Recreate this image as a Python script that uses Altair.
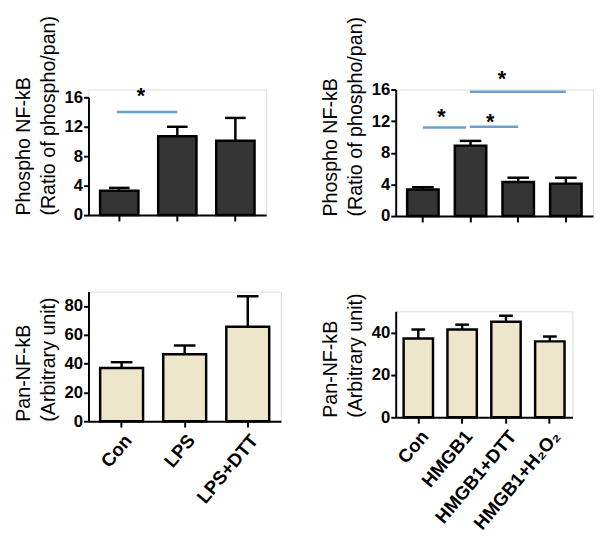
import altair as alt
import pandas as pd

# ---------------- data ----------------
cats_lps = ["Con", "LPS", "LPS+DTT"]
phos_lps = [3.3, 10.7, 10.1]
phos_lps_err = [0.4, 1.3, 3.1]
pan_lps = [37.0, 46.5, 65.6]
pan_lps_err = [4.0, 6.1, 21.2]

cats_hmgb = ["Con", "HMGB1", "HMGB1+DTT", "HMGB1+H₂O₂"]
phos_hmgb = [3.35, 8.9, 4.3, 4.1]
phos_hmgb_err = [0.3, 0.6, 0.55, 0.75]
pan_hmgb = [37.2, 41.4, 45.1, 35.8]
pan_hmgb_err = [4.2, 2.3, 2.8, 2.3]

sig_lps_start = ["Con"]
sig_lps_end = ["LPS"]
sig_lps_y = [14.0]
star_lps_y = [16.3]

sig_hmgb_start = ["Con", "HMGB1", "HMGB1"]
sig_hmgb_end = ["HMGB1", "HMGB1+DTT", "HMGB1+H₂O₂"]
sig_hmgb_y = [11.2, 11.3, 15.7]
star_hmgb_y = [12.7, 12.1, 17.5]

phos_ticks = [0, 4, 8, 12, 16]
pan_lps_ticks = [0, 20, 40, 60, 80]
pan_hmgb_ticks = [0, 20, 40]

phos_title = ["Phospho NF-kB", "(Ratio of phospho/pan)"]
pan_title = ["Pan-NF-kB", "(Arbitrary unit)"]

# ---------------- style ----------------
FONT = "Liberation Sans"
DARK = "#353535"
BEIGE = "#EDE6CB"
BLUE = "#6A9FD4"


def y_axis(values, title):
    return alt.Axis(values=values, title=title, titleAnchor="start",
                    titleFont=FONT, titleFontSize=20, titleFontWeight="normal",
                    titleLineHeight=25, titleColor="black", titlePadding=6,
                    labelFont=FONT, labelFontSize=17, labelFontWeight="bold",
                    labelColor="black", labelPadding=1, tickSize=5, tickWidth=2,
                    tickColor="black", domainColor="black", domainWidth=2,
                    labelOverlap=False, grid=False)


def x_axis(show_labels):
    if show_labels:
        return alt.Axis(title=None, labelAngle=-50, labelAlign="right",
                        labelBaseline="top", labelFont=FONT, labelFontSize=19,
                        labelFontWeight="bold", labelColor="black",
                        labelPadding=4, tickSize=6, tickWidth=2,
                        tickColor="black", domainColor="black", domainWidth=2,
                        labelOverlap=False, labelLimit=300)
    return alt.Axis(title=None, labels=False, tickSize=6, tickWidth=2,
                    tickColor="black", domainColor="black", domainWidth=2)


def panel(cats, vals, errs, fill, ydom, yticks, title, show_labels,
          p_in, p_out, cap, yrange=None):
    df = pd.DataFrame({"group": cats, "value": vals,
                       "upper": [v + e for v, e in zip(vals, errs)]})
    xscale = alt.Scale(domain=cats, paddingInner=p_in, paddingOuter=p_out)
    xax = x_axis(show_labels)
    if yrange is None:
        yscale = alt.Scale(domain=ydom, nice=False, zero=True)
    else:
        yscale = alt.Scale(domain=ydom, nice=False, zero=True, range=yrange)
    yax = y_axis(yticks, title)

    def X(f="group:N"):
        return alt.X(f, sort=cats, scale=xscale, axis=xax)

    def Y(f):
        return alt.Y(f, scale=yscale, axis=yax)

    base = alt.Chart(df)
    bars = base.mark_bar(fill=fill, stroke="black", strokeWidth=2.5).encode(
        x=X(), y=Y("value:Q"))
    err = base.mark_rule(color="black", strokeWidth=2.5).encode(
        x=X(), y=Y("value:Q"), y2="upper:Q")
    caps = base.mark_tick(color="black", size=cap, thickness=2.5,
                          opacity=1).encode(x=X(), y=Y("upper:Q"))
    return [err, bars, caps], X, Y


def sig_line(start, end, yv, bp1, bp2, X, Y):
    d = pd.DataFrame({"group": [start], "b": [end], "y": [yv]})
    x = X()
    x.bandPosition = bp1
    return alt.Chart(d).mark_rule(color=BLUE, strokeWidth=2.5).encode(
        x=x, x2=alt.X2("b:N", bandPosition=bp2), y=Y("y:Q"))


def star(start, yv, dx, X, Y):
    d = pd.DataFrame({"group": [start], "y": [yv], "t": ["*"]})
    return alt.Chart(d).mark_text(font=FONT, fontSize=22, fontWeight="bold",
                                  color="black", baseline="middle",
                                  dx=dx, dy=1.5).encode(
        x=X(), y=Y("y:Q"), text="t:N")


# top-left (8 px of empty room above the plot so it sits lower than top-right)
tl_layers, tlX, tlY = panel(cats_lps, phos_lps, phos_lps_err, DARK, [0, 16],
                            phos_ticks, phos_title, False, 0.34, 0.2, 21,
                            yrange=[128, 8])
tl_layers.append(sig_line(sig_lps_start[0], sig_lps_end[0], sig_lps_y[0],
                          0.44, 0.5, tlX, tlY))
tl_layers.append(star(sig_lps_start[0], star_lps_y[0], 22, tlX, tlY))
tl = alt.layer(*tl_layers).properties(width=181, height=128)

# top-right
tr_layers, trX, trY = panel(cats_hmgb, phos_hmgb, phos_hmgb_err, DARK, [0, 16],
                            phos_ticks, phos_title, False, 0.34, 0.24, 22)
bands = [(0.5, 0.36), (0.48, 0.5), (0.48, 0.5)]
dxs = [19, 20, 32]
for i in range(3):
    tr_layers.append(sig_line(sig_hmgb_start[i], sig_hmgb_end[i], sig_hmgb_y[i],
                              bands[i][0], bands[i][1], trX, trY))
    tr_layers.append(star(sig_hmgb_start[i], star_hmgb_y[i], dxs[i], trX, trY))
tr = alt.layer(*tr_layers).properties(width=201, height=129)

# bottom-left
bl_layers, _, _ = panel(cats_lps, pan_lps, pan_lps_err, BEIGE, [0, 90],
                        pan_lps_ticks, pan_title, True, 0.32, 0.185, 22)
bl = alt.layer(*bl_layers).properties(width=196, height=132)

# bottom-right
br_layers, _, _ = panel(cats_hmgb, pan_hmgb, pan_hmgb_err, BEIGE, [0, 50],
                        pan_hmgb_ticks, pan_title, True, 0.33, 0.18, 14)
br = alt.layer(*br_layers).properties(width=180, height=108)

left = alt.vconcat(tl, bl, spacing=68)
right = alt.vconcat(tr, br, spacing=68)
chart = alt.hconcat(left, right, spacing=39).properties(
    padding={"left": 5, "top": 2, "right": 0, "bottom": 0}
).configure_view(stroke=None).configure(background="white")

chart.save("out.html", embed_options={"renderer": "svg", "actions": False})
